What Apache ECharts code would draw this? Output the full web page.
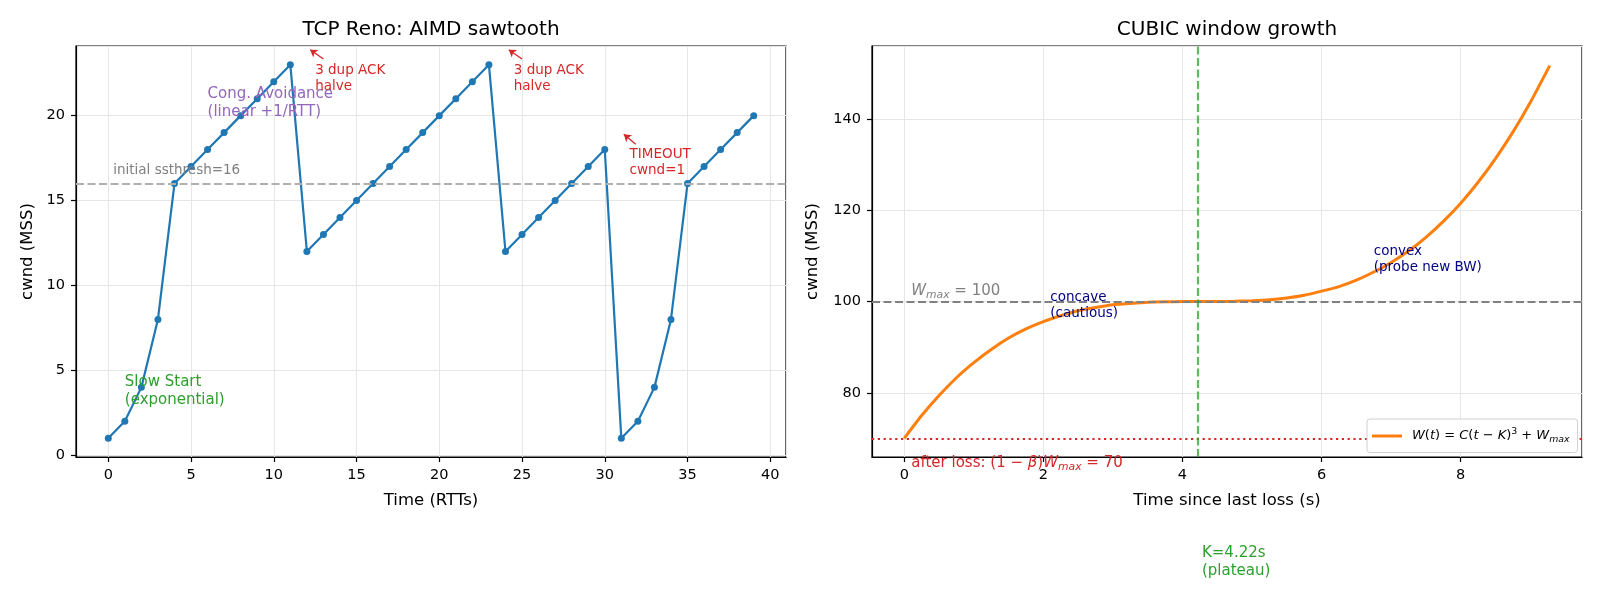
<!DOCTYPE html>
<html>
<head>
<meta charset="utf-8">
<script src="https://cdn.jsdelivr.net/npm/echarts@6/dist/echarts.min.js"></script>
<style>
  html, body { margin: 0; padding: 0; background: #fff; }
  #chart { width: 1600px; height: 615px; }
</style>
</head>
<body>
<div id="chart"></div>
<script>
// left panel: Reno cwnd per RTT
const rttTimes = [0, 1, 2, 3, 4, 5, 6, 7, 8, 9, 10, 11, 12, 13, 14, 15, 16, 17, 18, 19,
                  20, 21, 22, 23, 24, 25, 26, 27, 28, 29, 30, 31, 32, 33, 34, 35, 36, 37, 38, 39]
const renoCwnd = [1, 2, 4, 8, 16, 17, 18, 19, 20, 21, 22, 23, 12, 13, 14, 15, 16, 17, 18, 19,
                  20, 21, 22, 23, 12, 13, 14, 15, 16, 17, 18, 1, 2, 4, 8, 16, 17, 18, 19, 20]
const ssthresh = 16

// right panel: CUBIC window
const lossTimes = [0, 0.25, 0.5, 0.75, 1, 1.25, 1.5, 1.75, 2, 2.25, 2.5, 2.75, 3, 3.25, 3.5, 3.75,
                   4, 4.25, 4.5, 4.75, 5, 5.25, 5.5, 5.75, 6, 6.25, 6.5, 6.75, 7, 7.25, 7.5, 7.75,
                   8, 8.25, 8.5, 8.75, 9, 9.28]
const cubicCwnd = [70, 75.0, 79.4, 83.3, 86.6, 89.5, 92.0, 94.0, 95.6, 96.9, 98.0, 98.7, 99.3, 99.6, 99.85, 99.96,
                   100.0, 100.0, 100.0, 100.06, 100.2, 100.4, 100.8, 101.4, 102.3, 103.3, 104.7, 106.5,
                   108.6, 111.1, 114.1, 117.6, 121.6, 126.2, 131.4, 137.2, 143.7, 151.8]
const wMax = 100
const wAfterLoss = 70
const kPlateau = 4.22

const FONT = 'DejaVu Sans'
const BLUE = '#1f77b4', ORANGE = '#ff7f0e', GREEN = '#2ca02c', RED = '#d62728'
const PURPLE = '#9467bd', NAVY = '#000080', GRAY = '#808080'

const mathRich = function (size, color) {
    return {
        n: { fontFamily: FONT, fontSize: size, color: color },
        it: { fontFamily: FONT, fontSize: size, color: color, fontStyle: 'italic' },
        sub: { fontFamily: FONT, fontSize: size * 0.72, color: color, fontStyle: 'italic', padding: [8, 0, 0, 0] },
        sup: { fontFamily: FONT, fontSize: size * 0.72, color: color, padding: [0, 0, 9, 0] },
        gap: { fontFamily: FONT, fontSize: size, padding: [0, 0, 0, 5] }
    }
}

// text placed at a data point, anchored at its left edge
function note(x, y, text, color, size, va, rich) {
    return {
        value: [x, y],
        label: {
            show: true, position: 'inside', align: 'left', verticalAlign: va,
            formatter: text, color: color, fontSize: size, fontFamily: FONT,
            lineHeight: Math.round(size * 1.2), rich: rich
        }
    }
}

function xAxisBase(grid, name, min, max, step, gap) {
    return {
        type: 'value', gridIndex: grid, min: min, max: max,
        minInterval: step, maxInterval: step, splitNumber: 6,
        name: name, nameLocation: 'middle', nameGap: gap,
        nameTextStyle: { fontFamily: FONT, fontSize: 16.5, color: '#000' },
        axisLine: { show: true, onZero: false, lineStyle: { color: '#000', width: 1.2 } },
        axisTick: { show: true, inside: false, length: 5, lineStyle: { color: '#000', width: 1.2 } },
        axisLabel: { fontFamily: FONT, fontSize: 14.5, color: '#000', margin: 11, showMinLabel: false, showMaxLabel: false },
        splitLine: { show: true, lineStyle: { color: '#e6e6e6', width: 1 } }
    }
}

function yAxisBase(grid, name, min, max, step, gap) {
    const ax = xAxisBase(grid, name, min, max, step, gap)
    ax.nameRotate = 90
    ax.axisLabel.margin = 11
    return ax
}

const chart = echarts.init(document.getElementById('chart'), null, { renderer: 'canvas' })

const noteStyle = { color: 'rgba(0,0,0,0)', opacity: 1 }

const option = {
    animation: false,
    backgroundColor: '#fff',
    title: [
        { text: 'TCP Reno: AIMD sawtooth', left: 431, top: 20, textAlign: 'center', padding: 0,
          textStyle: { fontFamily: FONT, fontSize: 20, fontWeight: 'normal', color: '#000' } },
        { text: 'CUBIC window growth', left: 1227, top: 20, textAlign: 'center', padding: 0,
          textStyle: { fontFamily: FONT, fontSize: 20, fontWeight: 'normal', color: '#000' } }
    ],
    grid: [
        { left: 76, top: 46, width: 710, height: 411, show: true, borderColor: '#000', borderWidth: 1.2, backgroundColor: '#fff' },
        { left: 872, top: 46, width: 710, height: 411, show: true, borderColor: '#000', borderWidth: 1.2, backgroundColor: '#fff' }
    ],
    xAxis: [
        xAxisBase(0, 'Time (RTTs)', -1.95, 40.95, 5, 35),
        xAxisBase(1, 'Time since last loss (s)', -0.464, 9.744, 2, 35)
    ],
    yAxis: [
        yAxisBase(0, 'cwnd (MSS)', -0.1, 24.1, 5, 40),
        yAxisBase(1, 'cwnd (MSS)', 65.9, 156.1, 20, 51)
    ],
    legend: {
        data: [{ name: 'cubic', icon: 'rect' }],
        left: 1367, top: 419, z: 20,
        padding: [8, 8, 8, 5],
        itemWidth: 30, itemHeight: 3,
        backgroundColor: '#fff', borderColor: '#d0d0d0', borderWidth: 1, borderRadius: 3,
        formatter: function () {
            return '{gap|}{it|W}{n|(}{it|t}{n|) = }{it|C}{n|(}{it|t}{n| − }{it|K}{n|)}{sup|3}{n| + }{it|W}{sub|max}'
        },
        textStyle: { fontFamily: FONT, fontSize: 13, color: '#000', rich: mathRich(13, '#000') }
    },
    series: [
        {
            name: 'reno', type: 'line', xAxisIndex: 0, yAxisIndex: 0,
            data: rttTimes.map((t, i) => [t, renoCwnd[i]]),
            symbol: 'circle', symbolSize: 7, showSymbol: true,
            lineStyle: { color: BLUE, width: 2.2 },
            itemStyle: { color: BLUE, borderWidth: 0 },
            z: 3,
            markLine: {
                silent: true, symbol: 'none', label: { show: false },
                data: [{ yAxis: ssthresh, lineStyle: { color: '#b0b0b0', width: 2.2, type: [8, 3.5] } }]
            }
        },
        {
            name: 'arrows', type: 'lines', coordinateSystem: 'cartesian2d', xAxisIndex: 0, yAxisIndex: 0,
            symbol: ['none', 'arrow'], symbolSize: 7, silent: true, z: 5,
            lineStyle: { color: RED, width: 1.3, opacity: 1 },
            data: [
                { coords: [[13.0, 23.33], [12.2, 23.88]] },
                { coords: [[25.0, 23.33], [24.2, 23.88]] },
                { coords: [[31.87, 18.32], [31.15, 18.9]] }
            ]
        },
        {
            name: 'renoNotes', type: 'scatter', xAxisIndex: 0, yAxisIndex: 0,
            symbolSize: 1, itemStyle: noteStyle, clip: false, silent: true, z: 6,
            data: [
                note(0.3, 16.3, 'initial ssthresh=16', GRAY, 13.5, 'bottom'),
                note(6, 19.65, 'Cong. Avoidance\n(linear +1/RTT)', PURPLE, 15, 'bottom'),
                note(1, 2.7, 'Slow Start\n(exponential)', GREEN, 15, 'bottom'),
                note(12.5, 21.25, '3 dup ACK\nhalve', RED, 13.5, 'bottom'),
                note(24.5, 21.25, '3 dup ACK\nhalve', RED, 13.5, 'bottom'),
                note(31.5, 16.3, 'TIMEOUT\ncwnd=1', RED, 13.5, 'bottom')
            ]
        },
        {
            name: 'cubic', type: 'line', xAxisIndex: 1, yAxisIndex: 1,
            data: lossTimes.map((t, i) => [t, cubicCwnd[i]]),
            showSymbol: false, smooth: 0.2,
            lineStyle: { color: ORANGE, width: 3 },
            itemStyle: { color: ORANGE },
            z: 3,
            markLine: {
                silent: true, symbol: 'none', label: { show: false },
                data: [
                    { yAxis: wMax, lineStyle: { color: GRAY, width: 2.2, type: [8, 3.5] } },
                    { yAxis: wAfterLoss, lineStyle: { color: RED, width: 2.2, type: [2.2, 3.6] } },
                    { xAxis: kPlateau, lineStyle: { color: 'rgba(44,160,44,0.75)', width: 2.2, type: [8, 3.5] } }
                ]
            }
        },
        {
            name: 'cubicNotes', type: 'scatter', xAxisIndex: 1, yAxisIndex: 1,
            symbolSize: 1, itemStyle: noteStyle, clip: false, silent: true, z: 6,
            data: [
                note(0.1, 100.3, '{it|W}{sub|max}{n| = 100}', GRAY, 15, 'bottom', mathRich(15, GRAY)),
                note(2.1, 95.6, 'concave\n(cautious)', NAVY, 13.5, 'bottom'),
                note(6.75, 105.8, 'convex\n(probe new BW)', NAVY, 13.5, 'bottom'),
                note(0.1, 66.6, '{n|after loss: (1 − }{it|β}{n|)}{it|W}{sub|max}{n| = 70}', RED, 15, 'top', mathRich(15, RED)),
                note(4.28, 46.8, 'K=4.22s\n(plateau)', GREEN, 15, 'top')
            ]
        }
    ]
}

chart.setOption(option)
</script>
</body>
</html>
